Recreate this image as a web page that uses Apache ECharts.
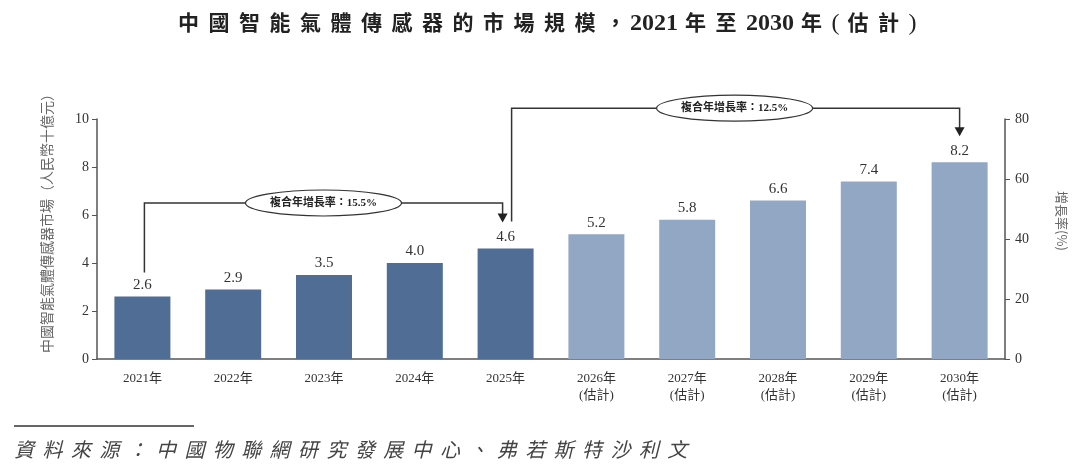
<!DOCTYPE html>
<html>
<head>
<meta charset="utf-8">
<script src="https://cdn.jsdelivr.net/npm/echarts@6/dist/echarts.min.js"></script>
<style>
  html, body { margin: 0; padding: 0; background: #fff; }
  #wrap { position: relative; width: 1080px; height: 470px; overflow: hidden; }
  #chart { position: absolute; left: 0; top: 0; width: 1080px; height: 470px; }
  #title {
    position: absolute; left: 178px; top: 6px; white-space: nowrap;
    font-family: "Liberation Serif", "Noto Sans CJK TC", serif;
    font-size: 21px; font-weight: bold; color: #222; letter-spacing: 9.5px;
  }
  #title .num { letter-spacing: 0; font-size: 24px; margin-right: 7px; }
  #title .cm { letter-spacing: 4px; }
  #title .pa { letter-spacing: 8px; font-weight: normal; font-size: 24px; }
  #rule { position: absolute; left: 14px; top: 425px; width: 180px; height: 2px; background: #666; }
  #source {
    position: absolute; left: 14px; top: 434px;
    font-family: "Noto Sans CJK TC", sans-serif; font-style: italic;
    font-size: 20px; color: #444; letter-spacing: 8.4px;
  }
</style>
</head>
<body>
<div id="wrap">
  <div id="chart"></div>
  <div id="title">中國智能氣體傳感器的市場規模<span class="cm">，</span><span class="num">2021</span>年至<span class="num">2030</span>年<span class="pa">(</span>估計<span class="pa">)</span></div>
  <div id="rule"></div>
  <div id="source">資料來源：中國物聯網研究發展中心、弗若斯特沙利文</div>
</div>
<script>
var YEARS = ['2021年', '2022年', '2023年', '2024年', '2025年', '2026年', '2027年', '2028年', '2029年', '2030年'];
var MARKET = [2.6, 2.9, 3.5, 4.0, 4.6, 5.2, 5.8, 6.6, 7.4, 8.2];
var ESTIMATE = [false, false, false, false, false, true, true, true, true, true];
var LEFT_TICKS = [0, 2, 4, 6, 8, 10];
var RIGHT_TICKS = [0, 20, 40, 60, 80];

// 複合年增長率 brackets
var CAGR_TEXT = ['複合年增長率：15.5%', '複合年增長率：12.5%'];
var CAGR_FROM = [0, 4];
var CAGR_TO = [4, 9];
var CAGR_LEVEL = [6.5, 10.45];

var DARK = '#4f6d95', LIGHT = '#91a7c4';
var SERIF = '"Liberation Serif", "Noto Sans CJK TC", serif';

var myChart = echarts.init(document.getElementById('chart'));

var barData = MARKET.map(function (v, i) {
    return { value: v, itemStyle: { color: ESTIMATE[i] ? LIGHT : DARK } };
});
var labels = YEARS.map(function (y, i) {
    return ESTIMATE[i] ? y + '\n(估計)' : y;
});

var option = {
    animation: false,
    grid: { left: 97, right: 75, top: 119, bottom: 111 },
    xAxis: {
        type: 'category',
        data: labels,
        axisLine: { lineStyle: { color: '#555', width: 1.5 } },
        axisTick: { show: false },
        axisLabel: { color: '#333', fontFamily: SERIF, fontSize: 13, lineHeight: 17, margin: 11, interval: 0 }
    },
    yAxis: [{
        type: 'value',
        min: LEFT_TICKS[0], max: LEFT_TICKS[LEFT_TICKS.length - 1], interval: 2,
        axisLine: { show: true, lineStyle: { color: '#555', width: 1.5 } },
        axisTick: { show: true, length: 5, lineStyle: { color: '#555' } },
        splitLine: { show: false },
        axisLabel: { color: '#333', fontFamily: SERIF, fontSize: 14, margin: 8 }
    }, {
        type: 'value',
        min: RIGHT_TICKS[0], max: RIGHT_TICKS[RIGHT_TICKS.length - 1], interval: 20,
        axisLine: { show: true, lineStyle: { color: '#555', width: 1.5 } },
        axisTick: { show: true, length: 5, lineStyle: { color: '#555' } },
        splitLine: { show: false },
        axisLabel: { color: '#333', fontFamily: SERIF, fontSize: 14, margin: 10 }
    }],
    series: [{
        type: 'bar',
        data: barData,
        barWidth: 56,
        label: { show: true, position: 'top', distance: 4, color: '#333', fontFamily: SERIF, fontSize: 15,
            formatter: function (p) { return p.value.toFixed(1); } }
    }]
};
myChart.setOption(option);

// axis names and brackets, placed from the chart's own scales
var g = [];
g.push({
    type: 'text', x: 47, y: 220, rotation: Math.PI / 2,
    style: { text: '中國智能氣體傳感器市場（人民幣十億元）', fill: '#666', fontSize: 14,
        fontFamily: '"Noto Sans CJK TC", sans-serif', align: 'center', verticalAlign: 'middle' }
});
g.push({
    type: 'text', x: 1062, y: 221, rotation: -Math.PI / 2,
    style: { text: '增長率(%)', fill: '#666', fontSize: 13,
        fontFamily: '"Noto Sans CJK TC", sans-serif', align: 'center', verticalAlign: 'middle' }
});

for (var k = 0; k < CAGR_TEXT.length; k++) {
    var a = myChart.convertToPixel({ seriesIndex: 0 }, [CAGR_FROM[k], MARKET[CAGR_FROM[k]]]);
    var b = myChart.convertToPixel({ seriesIndex: 0 }, [CAGR_TO[k], MARKET[CAGR_TO[k]]]);
    var lv = myChart.convertToPixel({ yAxisIndex: 0 }, CAGR_LEVEL[k]);
    var x0 = a[0] + (k === 0 ? 2 : 6);
    var x1 = b[0] - (k === 0 ? 3 : 0);
    var y0 = a[1] - (k === 0 ? 24 : 27);
    var yEnd = b[1] - 26;
    g.push({
        type: 'polyline', z: 10,
        shape: { points: [[x0, y0], [x0, lv], [x1, lv], [x1, yEnd - 8]] },
        style: { stroke: '#333', lineWidth: 1.5, fill: null }
    });
    g.push({
        type: 'polygon', z: 10,
        shape: { points: [[x1 - 5, yEnd - 9], [x1 + 5, yEnd - 9], [x1, yEnd]] },
        style: { fill: '#222' }
    });
    var cx = (x0 + x1) / 2 + (k === 0 ? 0 : -1);
    g.push({
        type: 'ellipse', z: 11,
        shape: { cx: cx, cy: lv, rx: 78, ry: 13 },
        style: { fill: '#fff', stroke: '#333', lineWidth: 1.2 }
    });
    g.push({
        type: 'text', z: 12, x: cx, y: lv,
        style: { text: CAGR_TEXT[k], fill: '#222', fontSize: 11, fontWeight: 'bold',
            fontFamily: SERIF, align: 'center', verticalAlign: 'middle' }
    });
}
myChart.setOption({ graphic: g });
</script>
</body>
</html>
